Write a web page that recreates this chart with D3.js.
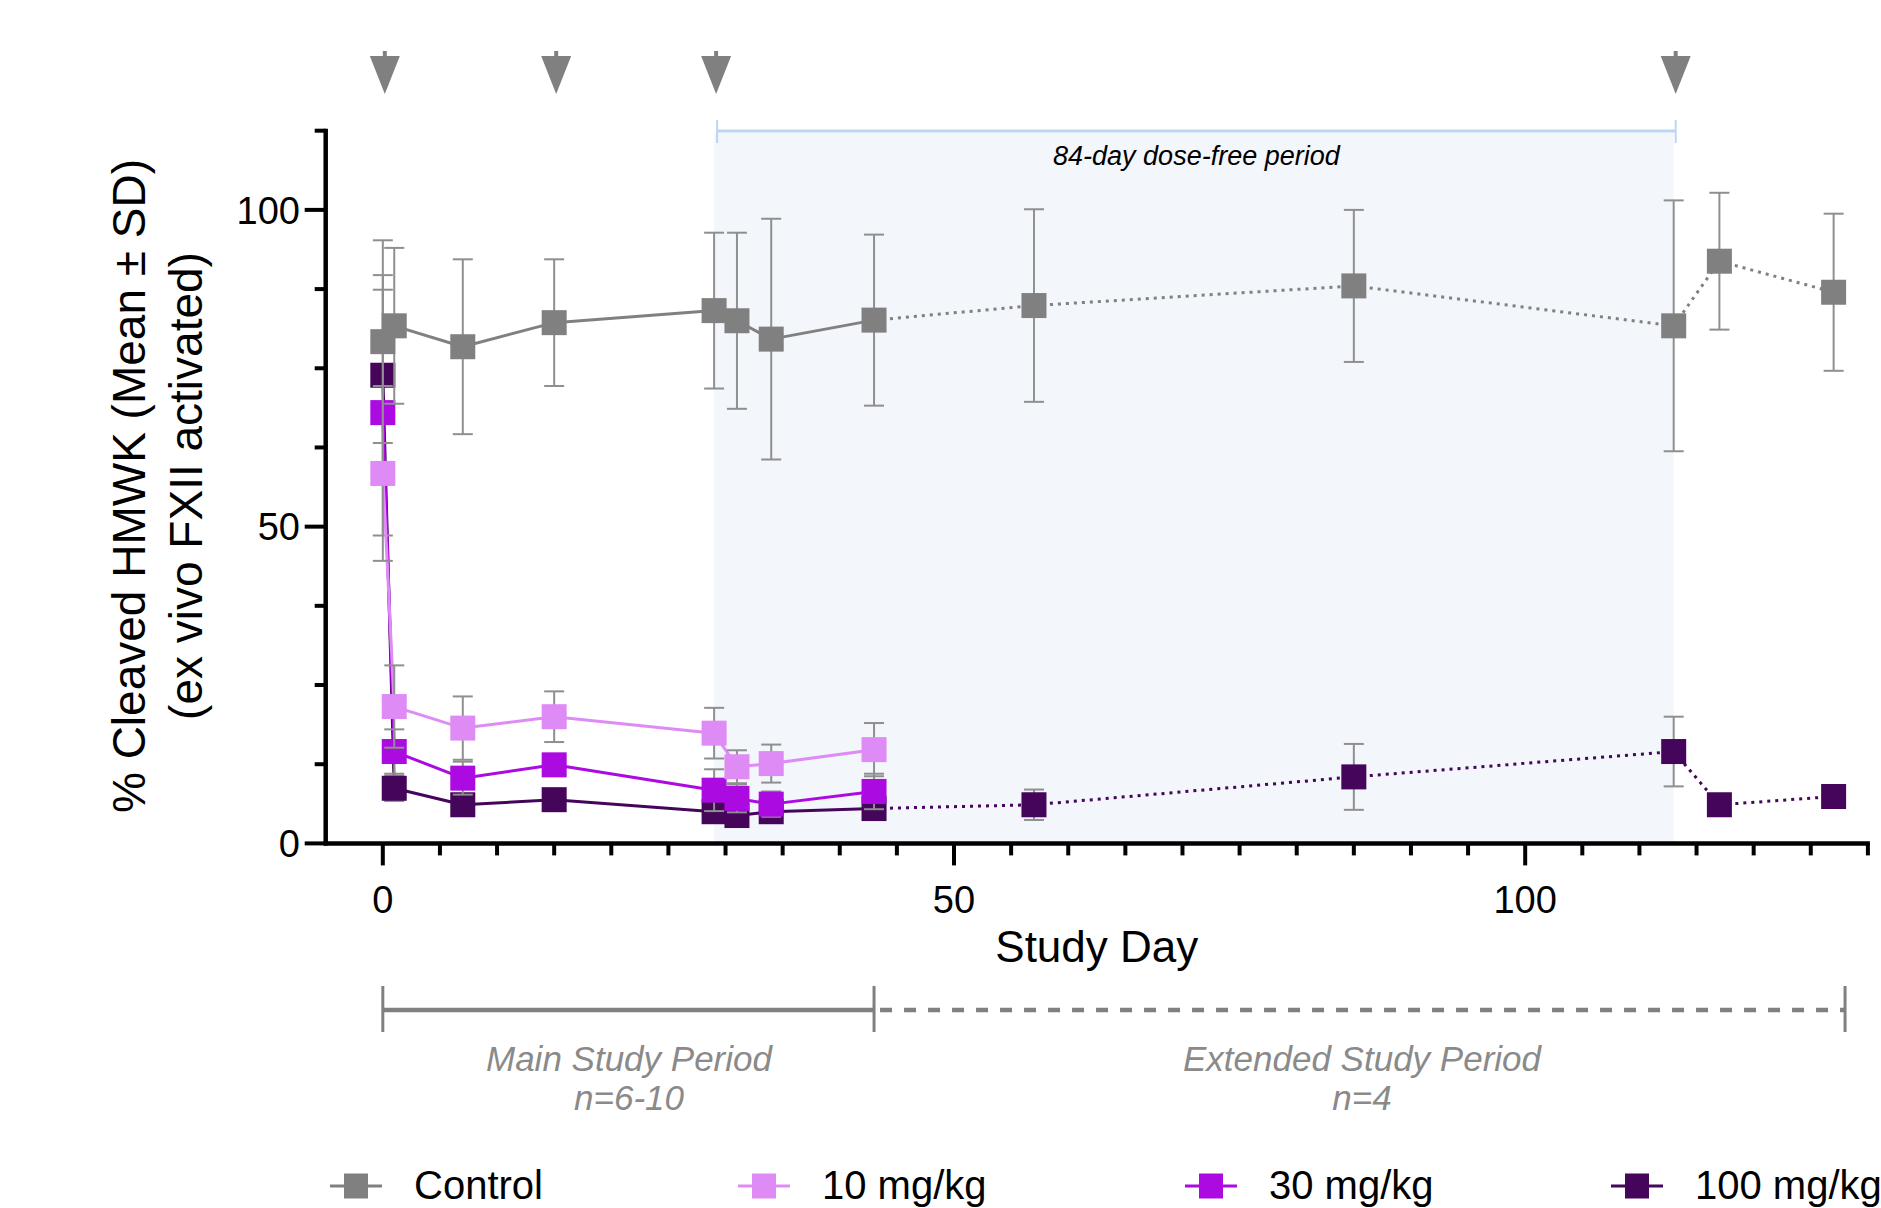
<!DOCTYPE html>
<html lang="en">

<head>
    <meta charset="UTF-8" />
    <title>Cleaved HMWK by study day</title>
    <script src="https://d3js.org/d3.v7.min.js"></script>
    <style>
        body {
            margin: 0;
            background: #fff;
            font-family: "Liberation Sans", Arial, sans-serif;
        }

        svg {
            display: block;
        }
    </style>
</head>

<body>
    <svg id="chart" width="1881" height="1208"></svg>

    <script>
        // values (% cleaved HMWK, mean and SD)
        const controlDays = [0, 1, 7, 15, 29, 31, 34, 43, 57, 85, 113, 117, 127];
        const controlMean = [79.2, 81.7, 78.4, 82.2, 84.1, 82.5, 79.6, 82.6, 84.9, 88.0, 81.7, 91.9, 87.0];
        const controlSD = [16, 12.3, 13.8, 10, 12.3, 13.9, 19, 13.5, 15.2, 12, 19.8, 10.8, 12.4];

        const mainDays = [0, 1, 7, 15, 29, 31, 34, 43];
        const dose10Mean = [58.4, 21.6, 18.2, 20.0, 17.4, 12.1, 12.6, 14.8];
        const dose10SD = [13.8, 6.5, 5.0, 4.0, 4.0, 2.6, 3.0, 4.2];
        const dose30Mean = [68.0, 14.5, 10.3, 12.4, 8.4, 7.1, 6.2, 8.2];
        const dose30SD = [19.4, 3.5, 2.6, 1.5, 3.3, 2.2, 2.0, 2.8];

        const dose100Days = [0, 1, 7, 15, 29, 31, 34, 43, 57, 85, 113, 117, 127];
        const dose100Mean = [73.9, 8.7, 6.1, 6.9, 5.0, 4.4, 5.0, 5.5, 6.1, 10.5, 14.5, 6.1, 7.4];
        const dose100SD = [15.8, 2.0, 1.0, 1.0, 1.5, 1.7, 1.0, 0.8, 2.4, 5.2, 5.5, 0.5, 0.5];

        const seriesNames = ["Control", "10 mg/kg", "30 mg/kg", "100 mg/kg"];
        const doseDays = [0, 15, 29, 113];
        const doseFree = [29, 113];
        const mainPeriod = [0, 43];
        const extendedPeriod = [43, 128];
        const yTickLabels = [0, 50, 100];
        const xTickLabels = [0, 50, 100];

        const colors = {
            "Control": "#808080",
            "10 mg/kg": "#df8bf5",
            "30 mg/kg": "#ab0ae0",
            "100 mg/kg": "#44055a"
        };

        const series = [
            { name: "Control", days: controlDays, mean: controlMean, sd: controlSD },
            { name: "10 mg/kg", days: mainDays, mean: dose10Mean, sd: dose10SD },
            { name: "30 mg/kg", days: mainDays, mean: dose30Mean, sd: dose30SD },
            { name: "100 mg/kg", days: dose100Days, mean: dose100Mean, sd: dose100SD }
        ];

        const svg = d3.select("#chart");

        const x = d3.scaleLinear().domain([-5, 130]).range([325.7, 1867.9]);
        const y = d3.scaleLinear().domain([0, 112.5]).range([843.4, 130.7]);

        // dose-free shading + bracket
        svg.append("rect")
            .attr("x", x(doseFree[0]))
            .attr("y", y(112.5) + 2)
            .attr("width", x(doseFree[1]) - x(doseFree[0]))
            .attr("height", y(0) - y(112.5) - 2)
            .attr("fill", "#f3f6fb");

        const bx1 = x(doseFree[0]) + 3, bx2 = x(doseFree[1]) + 2;
        svg.append("line")
            .attr("x1", bx1).attr("x2", bx2)
            .attr("y1", 131).attr("y2", 131)
            .attr("stroke", "#bcd6f5").attr("stroke-width", 3);
        [bx1, bx2].forEach(bx => {
            svg.append("line")
                .attr("x1", bx).attr("x2", bx)
                .attr("y1", 120).attr("y2", 143)
                .attr("stroke", "#bcd6f5").attr("stroke-width", 2);
        });
        svg.append("text")
            .attr("x", (bx1 + bx2) / 2)
            .attr("y", 165)
            .attr("text-anchor", "middle")
            .style("font-size", "27px")
            .style("font-style", "italic")
            .text("84-day dose-free period");

        // dosing arrows
        doseDays.forEach(d => {
            const cx = x(d) + 2;
            svg.append("rect")
                .attr("x", cx - 2).attr("y", 51)
                .attr("width", 4).attr("height", 7)
                .attr("fill", "#808080");
            svg.append("path")
                .attr("d", `M${cx - 15},56 L${cx + 15},56 L${cx},94 Z`)
                .attr("fill", "#808080");
        });

        // axes
        const yAxis = svg.append("g");
        yAxis.append("line")
            .attr("x1", x(-5)).attr("x2", x(-5))
            .attr("y1", y(112.5) - 2).attr("y2", y(0) + 2)
            .attr("stroke", "#000").attr("stroke-width", 4.5);
        d3.range(0, 112.6, 12.5).forEach(v => {
            const major = v % 50 === 0;
            yAxis.append("line")
                .attr("x1", x(-5) - (major ? 21 : 11)).attr("x2", x(-5))
                .attr("y1", y(v)).attr("y2", y(v))
                .attr("stroke", "#000").attr("stroke-width", 4);
        });
        yTickLabels.forEach(v => {
            yAxis.append("text")
                .attr("x", 300).attr("y", y(v))
                .attr("dy", "0.36em")
                .attr("text-anchor", "end")
                .style("font-size", "38px")
                .text(v);
        });

        const xAxis = svg.append("g");
        xAxis.append("line")
            .attr("x1", x(-5) - 2).attr("x2", x(130) + 2)
            .attr("y1", y(0)).attr("y2", y(0))
            .attr("stroke", "#000").attr("stroke-width", 4.5);
        d3.range(0, 131, 5).forEach(v => {
            const major = v % 50 === 0;
            xAxis.append("line")
                .attr("x1", x(v)).attr("x2", x(v))
                .attr("y1", y(0)).attr("y2", y(0) + (major ? 22 : 12))
                .attr("stroke", "#000").attr("stroke-width", 4);
        });
        xTickLabels.forEach(v => {
            xAxis.append("text")
                .attr("x", x(v)).attr("y", 913)
                .attr("text-anchor", "middle")
                .style("font-size", "38px")
                .text(v);
        });

        svg.append("text")
            .attr("x", (x(-5) + x(130)) / 2).attr("y", 962)
            .attr("text-anchor", "middle")
            .style("font-size", "44px")
            .text("Study Day");

        svg.append("text")
            .attr("transform", "translate(145,486) rotate(-90)")
            .attr("text-anchor", "middle")
            .style("font-size", "46px")
            .text("% Cleaved HMWK (Mean ± SD)");
        svg.append("text")
            .attr("transform", "translate(202,486) rotate(-90)")
            .attr("text-anchor", "middle")
            .style("font-size", "46px")
            .text("(ex vivo FXII activated)");

        // series, drawn back to front (control on top)
        const plot = svg.append("g");
        series.slice().reverse().forEach(s => {
            const c = colors[s.name];
            const pts = s.days.map((d, i) => ({ d: d, m: s.mean[i], sd: s.sd[i] }));
            const g = plot.append("g");

            for (let i = 1; i < pts.length; i++) {
                const a = pts[i - 1], b = pts[i];
                const solid = b.d <= mainPeriod[1];
                g.append("line")
                    .attr("x1", x(a.d)).attr("y1", y(a.m))
                    .attr("x2", x(b.d)).attr("y2", y(b.m))
                    .attr("stroke", c)
                    .attr("stroke-width", 3)
                    .attr("stroke-dasharray", solid ? null : "3,5");
            }

            pts.forEach(p => {
                g.append("line")
                    .attr("x1", x(p.d)).attr("x2", x(p.d))
                    .attr("y1", y(p.m + p.sd)).attr("y2", y(p.m - p.sd))
                    .attr("stroke", "#8f8f8f").attr("stroke-width", 2);
                [p.m + p.sd, p.m - p.sd].forEach(v => {
                    g.append("line")
                        .attr("x1", x(p.d) - 10).attr("x2", x(p.d) + 10)
                        .attr("y1", y(v)).attr("y2", y(v))
                        .attr("stroke", "#8f8f8f").attr("stroke-width", 2);
                });
            });

            g.selectAll("rect.pt")
                .data(pts)
                .join("rect")
                .attr("class", "pt")
                .attr("x", p => x(p.d) - 12.5)
                .attr("y", p => y(p.m) - 12.5)
                .attr("width", 25).attr("height", 25)
                .attr("fill", c);
        });

        // study period bar
        const pg = svg.append("g");
        const py = 1010;
        pg.append("line")
            .attr("x1", x(mainPeriod[0])).attr("x2", x(mainPeriod[1]))
            .attr("y1", py).attr("y2", py)
            .attr("stroke", "#808080").attr("stroke-width", 4.5);
        pg.append("line")
            .attr("x1", x(extendedPeriod[0]) + 6).attr("x2", x(extendedPeriod[1]))
            .attr("y1", py).attr("y2", py)
            .attr("stroke", "#808080").attr("stroke-width", 4.5)
            .attr("stroke-dasharray", "12,12");
        [mainPeriod[0], mainPeriod[1], extendedPeriod[1]].forEach(d => {
            pg.append("line")
                .attr("x1", x(d)).attr("x2", x(d))
                .attr("y1", 986).attr("y2", 1032)
                .attr("stroke", "#808080").attr("stroke-width", 3);
        });
        const periodText = [
            { cx: 629, lines: ["Main Study Period", "n=6-10"] },
            { cx: 1362, lines: ["Extended Study Period", "n=4"] }
        ];
        periodText.forEach(t => {
            t.lines.forEach((ln, i) => {
                pg.append("text")
                    .attr("x", t.cx)
                    .attr("y", 1071 + i * 39)
                    .attr("text-anchor", "middle")
                    .attr("fill", "#8a8a8a")
                    .style("font-size", "35px")
                    .style("font-style", "italic")
                    .text(ln);
            });
        });

        // legend
        const legendX = [356, 764, 1211, 1637];
        seriesNames.forEach((name, i) => {
            const lg = svg.append("g").attr("transform", `translate(${legendX[i]},1186)`);
            lg.append("line")
                .attr("x1", -26).attr("x2", 26)
                .attr("stroke", colors[name]).attr("stroke-width", 3);
            lg.append("rect")
                .attr("x", -12).attr("y", -12.5)
                .attr("width", 24).attr("height", 25)
                .attr("fill", colors[name]);
            lg.append("text")
                .attr("x", 58).attr("y", 13)
                .style("font-size", "40px")
                .text(name);
        });
    </script>
</body>

</html>
